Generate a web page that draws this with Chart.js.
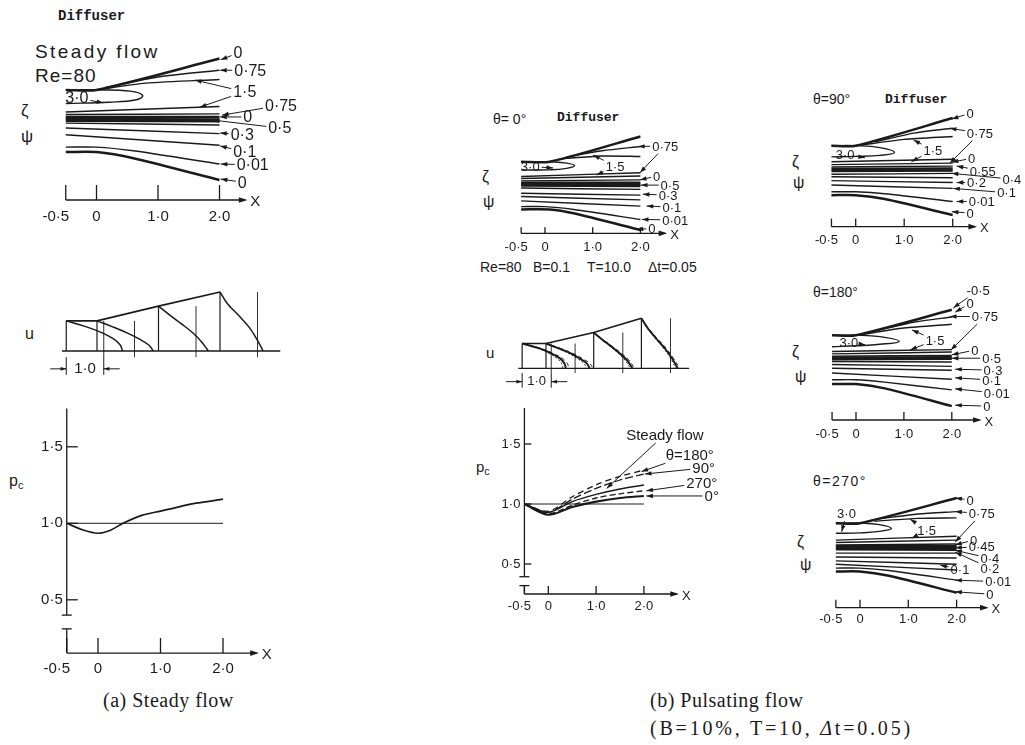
<!DOCTYPE html>
<html><head><meta charset="utf-8">
<script src="https://cdn.jsdelivr.net/npm/chart.js@4/dist/chart.umd.min.js"></script>
<style>
body{margin:0;background:#fff;width:1025px;height:745px;overflow:hidden;position:relative;font-family:"Liberation Sans",Arial,sans-serif;color:#1a1a1a}
.t{position:absolute;white-space:nowrap;line-height:1}
.m{font-family:"Liberation Mono","DejaVu Sans Mono",monospace;font-weight:bold}
.s{font-family:"Liberation Serif","DejaVu Serif",serif}
sub{font-size:11px;vertical-align:-3px}
</style></head><body>
<div class="t m" style="left:58px;top:9px;font-size:14px">Diffuser</div>
<div class="t" style="left:35px;top:42px;font-size:19px;letter-spacing:2.4px">Steady flow</div>
<div class="t" style="left:35px;top:66px;font-size:19px;letter-spacing:1px">Re=80</div>
<div class="t" style="left:21px;top:102px;font-size:17px">ζ</div>
<div class="t" style="left:21px;top:128px;font-size:17px">ψ</div>
<div class="t" style="left:25px;top:326px;font-size:16px">u</div>
<div class="t" style="left:9px;top:473px;font-size:16px">p<sub>c</sub></div>

<div class="t" style="left:493px;top:112px;font-size:14px">θ= 0°</div>
<div class="t m" style="left:557px;top:111px;font-size:13px">Diffuser</div>
<div class="t" style="left:482px;top:169px;font-size:16px">ζ</div>
<div class="t" style="left:483px;top:194px;font-size:16px">ψ</div>
<div class="t" style="left:480px;top:260px;font-size:14px">Re=80</div>
<div class="t" style="left:533px;top:260px;font-size:14px">B=0.1</div>
<div class="t" style="left:587px;top:260px;font-size:14px">T=10.0</div>
<div class="t" style="left:648px;top:260px;font-size:14px">Δt=0.05</div>
<div class="t" style="left:486px;top:345px;font-size:15px">u</div>
<div class="t" style="left:476px;top:459px;font-size:15px">p<sub>c</sub></div>

<div class="t" style="left:813px;top:92px;font-size:14px">θ=90°</div>
<div class="t m" style="left:885px;top:93px;font-size:13px">Diffuser</div>
<div class="t" style="left:792px;top:154px;font-size:16px">ζ</div>
<div class="t" style="left:793px;top:175px;font-size:16px">ψ</div>
<div class="t" style="left:813px;top:285px;font-size:14px">θ=180°</div>
<div class="t" style="left:792px;top:344px;font-size:16px">ζ</div>
<div class="t" style="left:795px;top:369px;font-size:16px">ψ</div>
<div class="t" style="left:813px;top:474px;font-size:14px;letter-spacing:1.5px">θ=270°</div>
<div class="t" style="left:797px;top:534px;font-size:16px">ζ</div>
<div class="t" style="left:800px;top:557px;font-size:16px">ψ</div>

<div class="t s" style="left:103px;top:690px;font-size:20px;letter-spacing:0.5px">(a) Steady flow</div>
<div class="t s" style="left:650px;top:690px;font-size:20px;letter-spacing:0.5px">(b) Pulsating flow</div>
<div class="t s" style="left:650px;top:718px;font-size:20px;letter-spacing:2.8px">(B=10%, T=10, <i>Δ</i>t=0.05)</div>

<script>
// ---------- shared axis ticks ----------
const X_TICKS = [-0.5, 0, 1, 2];
const X_TICK_LABELS = ['-0·5', '0', '1·0', '2·0'];
const PC_TICKS = [1.5, 1.0, 0.5];
const PC_TICK_LABELS = ['1·5', '1·0', '0·5'];

// ---------- (a) steady flow streamlines (x, height) ----------
const aStreamX = [[-0.5,0,2.0],[0.15,1.0,2.0],[0.05,0.8,2.0],[-0.5,0,0.55,0.75,0.65,0.2,-0.5],[-0.5,2.0],[-0.5,2.0],[-0.5,2.0],[-0.5,2.0],[-0.5,2.0],[-0.5,2.0],[-0.5,2.0],[-0.5,2.0],[-0.5,0,0.6,2.0],[-0.5,0,0.6,2.0]];
const aStreamH = [[1.79,1.79,2.30],[1.83,2.00,2.11],[1.80,1.90,1.96],[1.79,1.79,1.77,1.70,1.63,1.59,1.57],[1.43,1.52],[1.39,1.40],[1.35,1.35],[1.32,1.31],[1.29,1.28],[1.25,1.22],[1.17,1.08],[1.06,0.89],[0.86,0.86,0.80,0.585],[0.78,0.78,0.68,0.325]];
const aStreamBold = [0,6,7,8,13];
const aLabelText = ['0','0·75','1·5','0·75','0','0·5','0·3','0·1','0·01','0','3·0'];
const aLabelPos = [[2.30,2.39],[2.50,2.11],[2.41,1.76],[3.0,1.54],[2.46,1.35],[2.98,1.17],[2.37,1.06],[2.41,0.78],[2.54,0.57],[2.37,0.29],[-0.32,1.66]];
const aLabelTip = [[[2.02,2.28]],[[2.01,2.11]],[[1.60,1.95],[1.68,1.51]],[[2.04,1.38]],[[2.01,1.35]],[[1.89,1.30]],[[2.01,1.09]],[[2.01,0.88]],[[2.02,0.585]],[[2.02,0.34]],[[0.11,1.58]]];

// ---------- (a) velocity profiles ----------
const uStations = [-0.5, 0, 1, 2];
const etaLevels = [1, 0.8, 0.6, 0.4, 0.2, 0];
const aWallH = [0.49, 0.49, 0.73, 0.96];
const aU = [[0,0.54,0.96,1.26,1.44,1.5],[0,0.42,0.8,1.12,1.38,1.5],[0,0.3,0.62,0.92,1.15,1.33],[0,0.2,0.5,0.78,0.98,1.15]];

// ---------- (a) centre pressure ----------
const aPcX = [-0.5,-0.25,0,0.2,0.4,0.7,1.0,1.2,1.5,1.75,2.0];
const aPc = [1.0,0.958,0.935,0.955,1.0,1.052,1.08,1.098,1.127,1.142,1.158];

// ---------- (b) theta = 0 streamlines ----------
const b0X = [[-0.5,0.1,2.0],[0.45,1.2,2.0],[0.3,1.2,2.0],[-0.5,0.1,0.45,0.62,0.45,0.1,-0.5],[-0.5,2.0],[-0.5,2.0],[-0.5,2.0],[-0.5,2.0],[-0.5,2.0],[-0.5,2.0],[-0.5,2.0],[-0.5,2.0],[-0.5,2.0],[-0.5,2.0],[-0.5,0,0.6,2.0],[-0.5,0.1,0.6,2.0]];
const b0H = [[1.50,1.50,2.03],[1.60,1.73,1.82],[1.56,1.62,1.61],[1.50,1.50,1.47,1.42,1.36,1.33,1.33],[1.19,1.27],[1.15,1.20],[1.10,1.12],[1.06,1.06],[1.03,1.02],[1.00,0.99],[0.95,0.92],[0.84,0.80],[0.77,0.70],[0.68,0.57],[0.56,0.56,0.50,0.29],[0.50,0.50,0.42,0.07]];
const b0Bold = [0,7,8,9,15];
const b0LabelText = ['0·75','1·5','3·0','0','0·5','0·3','0·1','0·01','0'];
const b0LabelPos = [[2.52,1.83],[1.47,1.41],[-0.31,1.40],[2.34,1.20],[2.62,1.01],[2.58,0.80],[2.66,0.55],[2.73,0.28],[2.24,0.10]];
const b0LabelTip = [[[1.95,1.82],[1.99,1.27]],[[1.01,1.64],[1.08,1.22]],[[0.17,1.37]],[[1.99,1.12]],[[2.01,1.01]],[[2.05,0.82]],[[2.13,0.57]],[[2.03,0.29]],[[1.92,0.08]]];

// ---------- (b) theta = 90 streamlines ----------
const b90X = [[-0.5,0,2.0],[0.4,1.2,2.0],[0.1,1.0,2.0],[-0.5,0,0.5,0.8,0.5,0,-0.5],[-0.5,2.0],[-0.5,2.0],[-0.5,2.0],[-0.5,2.0],[-0.5,2.0],[-0.5,2.0],[-0.5,2.0],[-0.5,2.0],[-0.5,2.0],[-0.5,0,0.6,2.0],[-0.5,0,0.6,2.0]];
const b90H = [[1.67,1.67,2.24],[1.75,1.93,2.03],[1.68,1.80,1.86],[1.67,1.67,1.63,1.53,1.47,1.45,1.44],[1.34,1.39],[1.28,1.31],[1.23,1.25],[1.19,1.20],[1.15,1.16],[1.08,1.10],[1.03,1.01],[0.95,0.91],[0.86,0.79],[0.72,0.72,0.68,0.52],[0.65,0.65,0.57,0.24]];
const b90Bold = [0,7,8,14];
const b90LabelText = ['0','0·75','1·5','3·0','0','0·55','0·4','0·2','0·1','0·01','0'];
const b90LabelPos = [[2.36,2.34],[2.56,1.93],[1.59,1.58],[-0.22,1.50],[2.39,1.41],[2.62,1.15],[3.22,0.98],[2.49,0.91],[3.11,0.70],[2.60,0.52],[2.36,0.28]];
const b90LabelTip = [[[1.98,2.22]],[[1.94,2.03],[1.94,1.31]],[[1.19,1.79],[1.15,1.34]],[[0.19,1.42]],[[1.98,1.33]],[[2.08,1.25]],[[1.98,1.10]],[[2.08,0.91]],[[2.01,0.79]],[[2.08,0.52]],[[1.98,0.31]]];

// ---------- (b) theta = 180 streamlines ----------
const b180X = [[-0.5,0,2.0],[0.4,1.2,2.0],[0.1,1.0,2.0],[-0.5,0,0.5,0.9,0.5,0,-0.5],[-0.5,2.0],[-0.5,2.0],[-0.5,2.0],[-0.5,2.0],[-0.5,2.0],[-0.5,2.0],[-0.5,2.0],[-0.5,2.0],[-0.5,2.0],[-0.5,0,0.6,2.0],[-0.5,0,0.6,2.0]];
const b180H = [[1.77,1.77,2.30],[1.86,2.04,2.15],[1.78,1.92,2.00],[1.77,1.77,1.74,1.64,1.58,1.55,1.53],[1.43,1.47],[1.38,1.42],[1.33,1.35],[1.30,1.31],[1.27,1.28],[1.22,1.21],[1.16,1.12],[1.08,1.04],[0.98,0.85],[0.84,0.84,0.79,0.63],[0.75,0.75,0.66,0.29]];
const b180Bold = [0,7,8,14];
const b180LabelText = ['-0·5','0','0·75','1·5','3·0','0','0·5','0·3','0·1','0·01','0'];
const b180LabelPos = [[2.55,2.71],[2.38,2.44],[2.69,2.16],[1.65,1.67],[-0.15,1.63],[2.48,1.46],[2.83,1.29],[2.86,1.04],[2.83,0.835],[2.94,0.56],[2.73,0.29]];
const b180LabelTip = [[[2.03,2.34]],[[2.07,2.25]],[[1.96,2.16],[1.98,1.46]],[[1.17,1.88],[1.13,1.46]],[[0.19,1.57]],[[2.0,1.36]],[[2.0,1.29]],[[2.07,1.06]],[[2.07,0.88]],[[2.07,0.65]],[[2.07,0.31]]];

// ---------- (b) theta = 270 streamlines ----------
const b270X = [[-0.5,0,2.0],[0.4,1.2,2.0],[0.3,1.2,2.0],[-0.5,0,0.4,0.65,0.4,0,-0.5],[-0.5,2.0],[-0.5,2.0],[-0.5,2.0],[-0.5,2.0],[-0.5,2.0],[-0.5,2.0],[-0.5,2.0],[-0.5,2.0],[-0.5,2.0],[-0.5,2.0],[-0.5,0,0.6,2.0],[-0.5,0,0.6,2.0]];
const b270H = [[1.75,1.75,2.27],[1.84,1.94,1.99],[1.79,1.85,1.86],[1.75,1.75,1.72,1.64,1.58,1.55,1.54],[1.40,1.48],[1.35,1.40],[1.30,1.32],[1.27,1.27],[1.24,1.24],[1.21,1.20],[1.13,1.13],[1.05,1.03],[0.97,0.90],[0.90,0.78],[0.82,0.82,0.77,0.57],[0.75,0.75,0.66,0.31]];
const b270Bold = [0,7,8,9,15];
const b270LabelText = ['0','0·75','1·5','3·0','0','0·45','0·4','0·2','0·1','0·01','0'];
const b270LabelPos = [[2.28,2.23],[2.52,1.95],[1.38,1.61],[-0.28,1.95],[2.35,1.40],[2.52,1.26],[2.69,1.02],[2.69,0.82],[2.07,0.80],[2.86,0.54],[2.69,0.28]];
const b270LabelTip = [[[1.97,2.27]],[[1.97,1.99],[1.97,1.36]],[[1.04,1.83],[1.07,1.44]],[[-0.38,1.57]],[[1.97,1.30]],[[1.97,1.24]],[[1.97,1.19]],[[1.97,1.15]],[[1.66,0.88]],[[1.97,0.57]],[[1.97,0.33]]];

// ---------- (b) velocity profiles ----------
const bWallH = [0.52, 0.52, 0.75, 1.05];
const bUsolid = [[0,0.6,1.0,1.3,1.45,1.5],[0,0.45,0.85,1.15,1.4,1.5],[0,0.3,0.62,0.92,1.17,1.33],[0,0.22,0.5,0.8,1.05,1.25]];
const bUdash = [[0,0.64,1.06,1.38,1.55,1.6],[0,0.5,0.92,1.24,1.5,1.62],[0,0.32,0.66,0.98,1.24,1.4],[0,0.24,0.54,0.85,1.1,1.32]];
const bUdot = [[0,0.55,0.93,1.2,1.35,1.4],[0,0.4,0.78,1.06,1.3,1.4],[0,0.28,0.58,0.87,1.1,1.26],[0,0.2,0.47,0.76,1.0,1.18]];

// ---------- (b) centre pressure ----------
const bPcX = [-0.5, 0, 0.5, 1.0, 1.5, 2.0];
const bPc0 = [1.0, 0.91, 0.975, 1.02, 1.05, 1.067];
const bPc270 = [1.0, 0.92, 0.99, 1.05, 1.085, 1.11];
const bPcSteady = [1.0, 0.93, 1.02, 1.08, 1.125, 1.158];
const bPc90 = [1.0, 0.93, 1.04, 1.13, 1.20, 1.25];
const bPc180 = [1.0, 0.94, 1.06, 1.16, 1.23, 1.283];
const bPcLabelText = ['Steady flow','θ=180°','90°','270°','0°'];
const bPcLabelPos = [[2.44,1.58],[2.96,1.41],[3.25,1.30],[3.21,1.175],[3.42,1.067]];
const bPcLabelTip = [[[1.22,1.13]],[[1.95,1.27]],[[2.02,1.25]],[[2.05,1.11]],[[2.05,1.067]]];

// =============== drawing helpers ===============
const INK = '#1a1a1a';
const SANS = '"Liberation Sans", Arial, sans-serif';
const U_SCALE = 0.61;
Chart.defaults.font.family = SANS;

function seg(ctx,x1,y1,x2,y2){ctx.beginPath();ctx.moveTo(x1,y1);ctx.lineTo(x2,y2);ctx.stroke();}
function head(ctx,x1,y1,x2,y2,s){const a=Math.atan2(y2-y1,x2-x1);ctx.beginPath();ctx.moveTo(x2,y2);ctx.lineTo(x2-s*Math.cos(a-0.32),y2-s*Math.sin(a-0.32));ctx.lineTo(x2-s*Math.cos(a+0.32),y2-s*Math.sin(a+0.32));ctx.closePath();ctx.fill();}

function lineSets(xs,hs,bold){
  return xs.map((xa,i)=>({data:xa.map((x,j)=>({x:x,y:hs[i][j]})),showLine:true,borderColor:INK,
    borderWidth:bold.includes(i)?2.5:1.4,pointRadius:0,tension:xa.length>4?0.42:0.25,clip:false,fill:false}));
}
function seg2(x1,y1,x2,y2,w,dash){return {data:[{x:x1,y:y1},{x:x2,y:y2}],showLine:true,borderColor:INK,borderWidth:w||1.1,borderDash:dash||[],pointRadius:0,clip:false,tension:0};}

function labels(ctx,X,Y,texts,pos,tips,size){
  ctx.font=size+'px '+SANS;ctx.textAlign='center';ctx.textBaseline='middle';ctx.fillStyle=INK;ctx.strokeStyle=INK;ctx.lineWidth=1;
  texts.forEach((t,i)=>{
    const tx=X(pos[i][0]),ty=Y(pos[i][1]);ctx.fillText(t,tx,ty+1);
    const w=ctx.measureText(t).width/2+2,h=size/2+1;
    tips[i].forEach(p=>{
      const px=X(p[0]),py=Y(p[1]),dx=px-tx,dy=py-ty;
      const s=Math.min(dx?Math.abs(w/dx):1e9,dy?Math.abs(h/dy):1e9);
      const sx=tx+dx*s,sy=ty+dy*s;seg(ctx,sx,sy,px,py);head(ctx,sx,sy,px,py,7);
    });
  });
}

function xAxis(ctx,X,Y,o){
  const y=Y(o.y);ctx.strokeStyle=INK;ctx.fillStyle=INK;ctx.lineWidth=1.3;
  seg(ctx,X(-0.5),y,X(o.end),y);head(ctx,X(o.end)-10,y,X(o.end)+2,y,9);
  X_TICKS.forEach(v=>seg(ctx,X(v),y,X(v),y-o.tick));
  ctx.font=o.size+'px '+SANS;ctx.textAlign='center';ctx.textBaseline='middle';
  X_TICKS.forEach((v,i)=>ctx.fillText(X_TICK_LABELS[i],X(v)+(i===0?o.minus:0),y+o.dy));
  ctx.textAlign='left';ctx.fillText('X',X(o.end)+5,y+2);
}

function yAxisPc(ctx,X,Y,o){
  const x=X(-0.5);ctx.strokeStyle=INK;ctx.fillStyle=INK;ctx.lineWidth=1.3;
  seg(ctx,x,Y(o.top),x,Y(o.b1));seg(ctx,x-5,Y(o.b1),x+5,Y(o.b1));
  seg(ctx,x-5,Y(o.b2),x+5,Y(o.b2));seg(ctx,x,Y(o.b2),x,Y(o.y));
  ctx.font=o.size+'px '+SANS;ctx.textAlign='right';ctx.textBaseline='middle';
  PC_TICKS.forEach((v,i)=>{seg(ctx,x,Y(v),x+o.tick,Y(v));ctx.fillText(PC_TICK_LABELS[i],x-4,Y(v));});
}

function panel(p){
  const [l,t,r,b]=p.box;
  const cv=document.createElement('canvas');cv.width=r-l;cv.height=b-t;
  cv.style.cssText='position:absolute;left:'+l+'px;top:'+t+'px;width:'+(r-l)+'px;height:'+(b-t)+'px';
  document.body.appendChild(cv);
  const pad={left:p.x0+p.xmin*p.kx-l,right:r-(p.x0+p.xmax*p.kx),top:(p.y0-p.ymax*p.ky)-t,bottom:b-(p.y0-p.ymin*p.ky)};
  return new Chart(cv,{type:'scatter',data:{datasets:p.datasets},
    options:{responsive:false,animation:false,devicePixelRatio:1,events:[],layout:{padding:pad},
      plugins:{legend:{display:false},tooltip:{enabled:false},title:{display:false}},
      scales:{x:{type:'linear',display:false,min:p.xmin,max:p.xmax},y:{type:'linear',display:false,min:p.ymin,max:p.ymax}}},
    plugins:[{id:'deco',afterDatasetsDraw(c){const X=v=>c.scales.x.getPixelForValue(v),Y=v=>c.scales.y.getPixelForValue(v);c.ctx.save();p.draw(c.ctx,X,Y);c.ctx.restore();}}]});
}

function profileSets(wallH,U,w,dash){
  const sets=[];
  uStations.forEach((s,i)=>sets.push({data:etaLevels.map((e,j)=>({x:s+U_SCALE*U[i][j],y:wallH[i]*e})),showLine:true,borderColor:INK,borderWidth:w,borderDash:dash,pointRadius:0,tension:0.4,clip:false}));
  return sets;
}
function profileFrame(wallH,x0,x1){
  const sets=[seg2(x0,0,x1,0,1.3)];
  sets.push({data:uStations.map((s,i)=>({x:s,y:wallH[i]})),showLine:true,borderColor:INK,borderWidth:1.7,pointRadius:0,tension:0,clip:false});
  uStations.forEach((s,i)=>{sets.push(seg2(s,0,s,wallH[i],1.2));sets.push(seg2(s+U_SCALE,-0.1,s+U_SCALE,wallH[i],0.9));});
  return sets;
}
function scaleBar(ctx,X,Y,yb,size){
  ctx.strokeStyle=INK;ctx.fillStyle=INK;ctx.lineWidth=1;
  const a=X(uStations[0]),b=X(uStations[0]+U_SCALE),y=Y(yb);
  seg(ctx,a,Y(-0.1),a,y+6);seg(ctx,b,Y(-0.1),b,y+6);
  seg(ctx,a-16,y,a,y);head(ctx,a-16,y,a,y,6);seg(ctx,b+16,y,b,y);head(ctx,b+16,y,b,y,6);
  ctx.font=size+'px '+SANS;ctx.textAlign='center';ctx.textBaseline='middle';ctx.fillText('1·0',(a+b)/2,y);
}

// =============== panels ===============
// (a) streamlines
panel({box:[25,40,310,232],x0:96.5,y0:200,kx:61.5,ky:61.5,xmin:-0.5,xmax:2.5,ymin:0,ymax:2.6,
  datasets:lineSets(aStreamX,aStreamH,aStreamBold),
  draw(ctx,X,Y){xAxis(ctx,X,Y,{y:0,end:2.42,tick:15,size:15,dy:17,minus:-10});labels(ctx,X,Y,aLabelText,aLabelPos,aLabelTip,16);}});
// (a) velocity profiles
panel({box:[25,280,300,385],x0:97,y0:351,kx:61.5,ky:61.5,xmin:-0.6,xmax:3.0,ymin:-0.45,ymax:1.0,
  datasets:profileFrame(aWallH,-0.57,2.98).concat(profileSets(aWallH,aU,1.5,[])),
  draw(ctx,X,Y){scaleBar(ctx,X,Y,-0.29,15);}});
// (a) centre pressure
panel({box:[25,400,290,682],x0:98,y0:676.3,kx:62.5,ky:153,xmin:-0.5,xmax:2.6,ymin:0.152,ymax:1.75,
  datasets:[seg2(-0.5,1.0,2.0,1.0,1.0),{data:aPcX.map((x,i)=>({x:x,y:aPc[i]})),showLine:true,borderColor:INK,borderWidth:1.7,pointRadius:0,tension:0.3,clip:false}],
  draw(ctx,X,Y){yAxisPc(ctx,X,Y,{top:1.75,b1:0.40,b2:0.31,y:0.152,tick:11,size:15});xAxis(ctx,X,Y,{y:0.152,end:2.54,tick:15,size:15,dy:16,minus:-10});}});

// (b) theta = 0
panel({box:[470,125,700,258],x0:545,y0:233.3,kx:47.7,ky:47.7,xmin:-0.5,xmax:2.5,ymin:0,ymax:2.2,
  datasets:lineSets(b0X,b0H,b0Bold),
  draw(ctx,X,Y){xAxis(ctx,X,Y,{y:0,end:2.52,tick:6,size:13,dy:14,minus:-5});labels(ctx,X,Y,b0LabelText,b0LabelPos,b0LabelTip,13);}});
// (b) velocity profiles
panel({box:[470,305,700,395],x0:546,y0:368.3,kx:47.7,ky:47.7,xmin:-0.6,xmax:3.0,ymin:-0.45,ymax:1.15,
  datasets:profileFrame(bWallH,-0.58,3.0).concat(profileSets(bWallH,bUsolid,1.9,[]),profileSets(bWallH,bUdash,1.0,[4,3]),profileSets(bWallH,bUdot,0.9,[2,2])),
  draw(ctx,X,Y){scaleBar(ctx,X,Y,-0.28,13);}});
// (b) centre pressure
panel({box:[470,400,735,615],x0:548.3,y0:624,kx:47.8,ky:120,xmin:-0.5,xmax:2.6,ymin:0.25,ymax:1.8,
  datasets:[seg2(-0.5,1.0,2.0,1.0,1.0),
    {data:bPcX.map((x,i)=>({x:x,y:bPc0[i]})),showLine:true,borderColor:INK,borderWidth:2.1,pointRadius:0,tension:0.3,clip:false},
    {data:bPcX.map((x,i)=>({x:x,y:bPc270[i]})),showLine:true,borderColor:INK,borderWidth:1.3,borderDash:[6,3],pointRadius:0,tension:0.3,clip:false},
    {data:bPcX.map((x,i)=>({x:x,y:bPcSteady[i]})),showLine:true,borderColor:INK,borderWidth:1.4,pointRadius:0,tension:0.3,clip:false},
    {data:bPcX.map((x,i)=>({x:x,y:bPc90[i]})),showLine:true,borderColor:INK,borderWidth:1.3,borderDash:[8,3],pointRadius:0,tension:0.3,clip:false},
    {data:bPcX.map((x,i)=>({x:x,y:bPc180[i]})),showLine:true,borderColor:INK,borderWidth:1.3,borderDash:[6,4],pointRadius:0,tension:0.3,clip:false}],
  draw(ctx,X,Y){yAxisPc(ctx,X,Y,{top:1.8,b1:0.394,b2:0.32,y:0.25,tick:7,size:13});xAxis(ctx,X,Y,{y:0.25,end:2.69,tick:8,size:13,dy:12,minus:-5});
    labels(ctx,X,Y,bPcLabelText,bPcLabelPos,bPcLabelTip,15);}});

// (b) theta = 90
panel({box:[790,105,1025,250],x0:855.7,y0:226.7,kx:48.5,ky:48.5,xmin:-0.5,xmax:2.5,ymin:0,ymax:2.5,
  datasets:lineSets(b90X,b90H,b90Bold),
  draw(ctx,X,Y){xAxis(ctx,X,Y,{y:0,end:2.46,tick:8,size:13,dy:14,minus:-5});labels(ctx,X,Y,b90LabelText,b90LabelPos,b90LabelTip,13);}});
// (b) theta = 180
panel({box:[790,280,1025,445],x0:856,y0:420,kx:47.9,ky:47.9,xmin:-0.5,xmax:2.5,ymin:0,ymax:2.8,
  datasets:lineSets(b180X,b180H,b180Bold),
  draw(ctx,X,Y){xAxis(ctx,X,Y,{y:0,end:2.58,tick:8,size:13,dy:14,minus:-5});labels(ctx,X,Y,b180LabelText,b180LabelPos,b180LabelTip,13);}});
// (b) theta = 270
panel({box:[790,480,1025,630],x0:860,y0:607.7,kx:48.3,ky:48.3,xmin:-0.5,xmax:2.5,ymin:0,ymax:2.5,
  datasets:lineSets(b270X,b270H,b270Bold),
  draw(ctx,X,Y){xAxis(ctx,X,Y,{y:0,end:2.62,tick:8,size:13,dy:12,minus:-5});labels(ctx,X,Y,b270LabelText,b270LabelPos,b270LabelTip,13);}});
</script>
</body></html>
